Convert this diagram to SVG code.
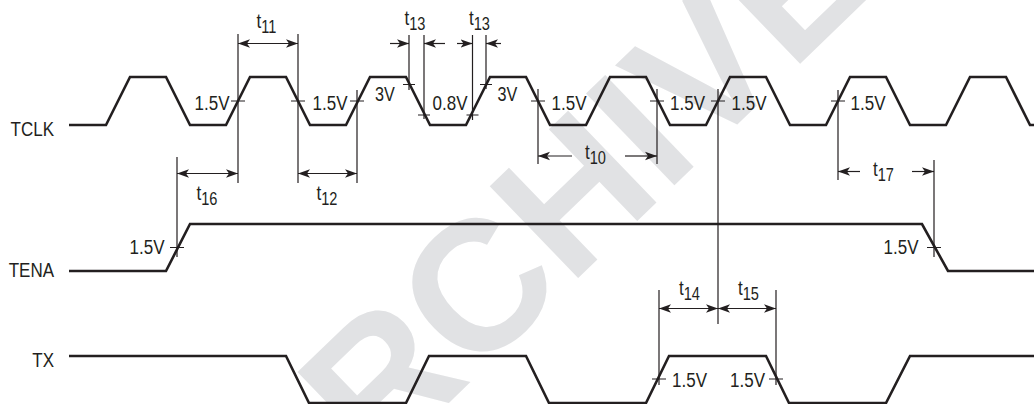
<svg xmlns="http://www.w3.org/2000/svg" width="1034" height="404" viewBox="0 0 1034 404">
<defs>
<marker id="ah" viewBox="0 -5 13 10" refX="12" refY="0" markerWidth="13" markerHeight="10" markerUnits="userSpaceOnUse" orient="auto-start-reverse">
<path d="M12,0 L0,-4.2 L3,0 L0,4.2 Z" fill="#231f20"/>
</marker>
</defs>
<style>
.wave{fill:none;stroke:#231f20;stroke-width:2.6;stroke-linejoin:miter}
.thin{fill:none;stroke:#231f20;stroke-width:1.2}
.arr{fill:none;stroke:#231f20;stroke-width:1.2}
text{font-family:"Liberation Sans",Arial,sans-serif;font-size:21px;fill:#231f20}
.s3{font-size:20px}
.sub{font-size:18px}
.wm{font-family:"Liberation Sans",sans-serif;font-weight:bold;font-size:185px;fill:#e1e2e4}
</style>
<rect width="1034" height="404" fill="#ffffff"/>
<text class="wm" transform="translate(281,565) rotate(-44)">ARCHIVE</text>

<g id="sig-tclk">
<text transform="translate(54,135.5) scale(0.81,1)" text-anchor="end">TCLK</text>
<path class="wave" d="M69,125 H106 L130,77 H166 L190,125 H226 L250,77 H286 L310,125 H346 L370,77 H406 L430,125 H466 L490,77 H526 L550,125 H586 L610,77 H646 L670,125 H706 L730,77 H766 L790,125 H826 L850,77 H886 L910,125 H946 L970,77 H1006 L1030,125 H1034"/>
</g>
<g id="sig-tena">
<text transform="translate(54,276.5) scale(0.81,1)" text-anchor="end">TENA</text>
<path class="wave" d="M69,271 H166 L190,224 H922 L948,271 H1034"/>
</g>
<g id="sig-tx">
<text transform="translate(54,366.5) scale(0.81,1)" text-anchor="end">TX</text>
<path class="wave" d="M69,356 H286 L309,403 H406 L429,356 H526 L549,403 H646 L669,356 H766 L789,403 H886 L910,356 H1034"/>
</g>

<g id="connectors">
<path class="thin" d="M238,34 V183 M298,34 V183 M357,90 V183 M177,157 V257 M409,35 V90 M424,35 V119 M472.5,35 V120 M486,35 V89 M538,89 V164 M657,89 V164 M718,89 V324 M838,90 V180 M934,160 V257 M659,290 V385 M776,290 V385"/>
<path class="thin" d="M231,101 H245 M291,101 H305 M350,101 H364 M531,101 H545 M650,101 H664 M711,101 H725 M831,101 H845 M403,84.5 H415 M418,115 H430 M466.5,115 H478.5 M480,84.5 H492 M170,247.5 H184 M927,247.5 H941 M652,379 H666 M769,379 H783"/>
<path class="arr" d="M238,43.5 H298" marker-start="url(#ah)" marker-end="url(#ah)"/>
<path class="arr" d="M177,173.5 H238" marker-start="url(#ah)" marker-end="url(#ah)"/>
<path class="arr" d="M298,173.5 H357" marker-start="url(#ah)" marker-end="url(#ah)"/>
<path class="arr" d="M390,43.5 H409" marker-end="url(#ah)"/>
<path class="arr" d="M445,43.5 H424" marker-end="url(#ah)"/>
<path class="arr" d="M457,43.5 H472.5" marker-end="url(#ah)"/>
<path class="arr" d="M501,43.5 H486" marker-end="url(#ah)"/>
<path class="arr" d="M572,156 H538" marker-end="url(#ah)"/>
<path class="arr" d="M625,156 H657" marker-end="url(#ah)"/>
<path class="arr" d="M860,171.5 H838" marker-end="url(#ah)"/>
<path class="arr" d="M912,171.5 H934" marker-end="url(#ah)"/>
<path class="arr" d="M659,308.5 H718" marker-start="url(#ah)" marker-end="url(#ah)"/>
<path class="arr" d="M718,308.5 H776" marker-start="url(#ah)" marker-end="url(#ah)"/>
</g>

<g id="level-labels">
<text transform="translate(229.5,110) scale(0.81,1)" text-anchor="end">1.5V</text>
<text transform="translate(312.5,110) scale(0.81,1)">1.5V</text>
<text class="s3" transform="translate(375,101) scale(0.81,1)">3V</text>
<text transform="translate(432.5,110) scale(0.81,1)">0.8V</text>
<text class="s3" transform="translate(497.5,101) scale(0.81,1)">3V</text>
<text transform="translate(551.5,110) scale(0.81,1)">1.5V</text>
<text transform="translate(670,110) scale(0.81,1)">1.5V</text>
<text transform="translate(731.5,110) scale(0.81,1)">1.5V</text>
<text transform="translate(850.5,110) scale(0.81,1)">1.5V</text>
<text transform="translate(164.5,253.5) scale(0.81,1)" text-anchor="end">1.5V</text>
<text transform="translate(918.5,253.5) scale(0.81,1)" text-anchor="end">1.5V</text>
<text transform="translate(707,386.5) scale(0.81,1)" text-anchor="end">1.5V</text>
<text transform="translate(765,386.5) scale(0.81,1)" text-anchor="end">1.5V</text>
</g>

<g id="timing-labels">
<text transform="translate(256.5,28) scale(0.81,1)">t<tspan class="sub" dy="5">11</tspan></text>
<text transform="translate(404.5,25) scale(0.81,1)">t<tspan class="sub" dy="4.5">13</tspan></text>
<text transform="translate(469,25) scale(0.81,1)">t<tspan class="sub" dy="4.5">13</tspan></text>
<text transform="translate(196.5,200) scale(0.81,1)">t<tspan class="sub" dy="5">16</tspan></text>
<text transform="translate(316.5,200) scale(0.81,1)">t<tspan class="sub" dy="5">12</tspan></text>
<text transform="translate(585,159) scale(0.81,1)">t<tspan class="sub" dy="4.5">10</tspan></text>
<text transform="translate(873,176) scale(0.81,1)">t<tspan class="sub" dy="4.5">17</tspan></text>
<text transform="translate(679,295) scale(0.81,1)">t<tspan class="sub" dy="5">14</tspan></text>
<text transform="translate(738,295) scale(0.81,1)">t<tspan class="sub" dy="5">15</tspan></text>
</g>
</svg>
